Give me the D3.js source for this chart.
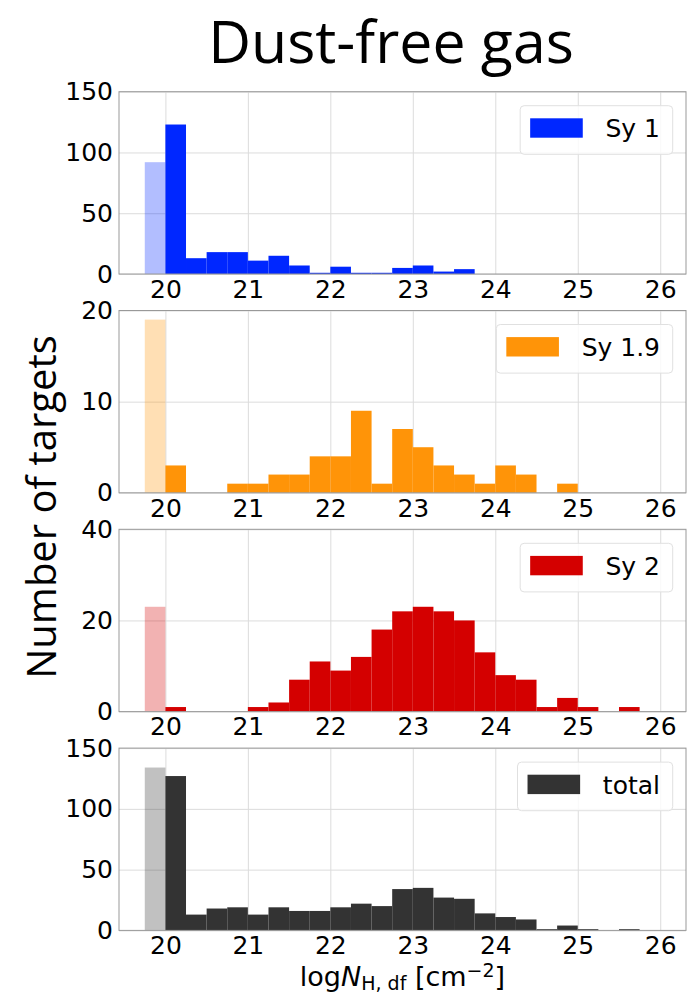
<!DOCTYPE html>
<html>
<head>
<meta charset="utf-8">
<script src="https://cdn.jsdelivr.net/npm/d3@7"></script>
<style>
  body { margin: 0; background: #fff; }
  svg text { font-family: "DejaVu Sans", sans-serif; }
</style>
</head>
<body>
<svg id="chart" width="697" height="997"></svg>
<script>
// bin left edges (width 0.25) for the detected sources
const binStarts = d3.range(24).map(i => 20 + i * 0.25);
const binWidth = 0.25;
const paleStart = 19.75; // lower-limit bin drawn in a light tint

const seriesNames = ["Sy 1", "Sy 1.9", "Sy 2", "total"];
const seriesColors = ["#0027ff", "#ff9408", "#d40000", "#333333"];
const paleCounts = [92, 19, 23, 134];

const sy1Counts  = [123, 13, 18, 18, 11, 15, 7, 1, 6, 1, 1, 5, 7, 2, 4, 0, 0, 0, 0, 0, 0, 0, 0, 0];
const sy19Counts = [3, 0, 0, 1, 1, 2, 2, 4, 4, 9, 1, 7, 5, 3, 2, 1, 3, 2, 0, 1, 0, 0, 0, 0];
const sy2Counts  = [1, 0, 0, 0, 1, 2, 7, 11, 9, 12, 18, 22, 23, 22, 20, 13, 8, 7, 1, 3, 1, 0, 1, 0];
const totCounts  = [127, 13, 18, 19, 13, 19, 16, 16, 19, 22, 20, 34, 35, 27, 26, 14, 11, 9, 1, 4, 1, 0, 1, 0];
const allCounts = [sy1Counts, sy19Counts, sy2Counts, totCounts];

const yMax = [150, 20, 40, 150];
const yTicks = [[0, 50, 100, 150], [0, 10, 20], [0, 20, 40], [0, 50, 100, 150]];
const xTicks = [20, 21, 22, 23, 24, 25, 26];

const svg = d3.select("#chart");

// layout
const left = 119, right = 686;
const panelH = 182.3, firstTop = 91.7, pitch = 218.8;

const x = d3.scaleLinear().domain([19.4375, 26.3125]).range([left, right]);

seriesNames.forEach((name, i) => {
    const top = firstTop + i * pitch;
    const bottom = top + panelH;
    const y = d3.scaleLinear().domain([0, yMax[i]]).range([bottom, top]);
    const g = svg.append("g");

    // grid
    g.append("g")
        .attr("transform", "translate(0," + bottom + ")")
        .call(d3.axisBottom(x).tickValues(xTicks).tickSize(-panelH).tickFormat(""))
        .call(a => a.select(".domain").remove())
        .call(a => a.selectAll("line").attr("stroke", "#dcdcdc"));
    g.append("g")
        .attr("transform", "translate(" + left + ",0)")
        .call(d3.axisLeft(y).tickValues(yTicks[i]).tickSize(-(right - left)).tickFormat(""))
        .call(a => a.select(".domain").remove())
        .call(a => a.selectAll("line").attr("stroke", "#dcdcdc"));

    // pale bar
    g.append("rect")
        .attr("x", x(paleStart))
        .attr("width", x(paleStart + binWidth) - x(paleStart))
        .attr("y", y(paleCounts[i]))
        .attr("height", bottom - y(paleCounts[i]))
        .attr("fill", seriesColors[i])
        .attr("fill-opacity", 0.3);

    // histogram bars
    g.selectAll(".bar")
        .data(binStarts.map((b, k) => ({b: b, v: allCounts[i][k]})).filter(d => d.v > 0))
        .enter().append("rect")
        .attr("class", "bar")
        .attr("x", d => x(d.b))
        .attr("width", d => x(d.b + binWidth) - x(d.b))
        .attr("y", d => y(d.v))
        .attr("height", d => bottom - y(d.v))
        .attr("fill", seriesColors[i]);

    // frame
    g.append("rect")
        .attr("x", left).attr("y", top)
        .attr("width", right - left).attr("height", panelH)
        .attr("fill", "none").attr("stroke", "#999");

    // tick labels
    g.append("g")
        .attr("transform", "translate(0," + bottom + ")")
        .call(d3.axisBottom(x).tickValues(xTicks).tickFormat(d3.format("d")).tickSize(0).tickPadding(6))
        .call(a => a.select(".domain").remove())
        .call(a => a.selectAll("text").attr("font-size", 25).attr("fill", "#000")
            .style("font-family", "'DejaVu Sans'"));
    g.append("g")
        .attr("transform", "translate(" + left + ",0)")
        .call(d3.axisLeft(y).tickValues(yTicks[i]).tickFormat(d3.format("d")).tickSize(0).tickPadding(6))
        .call(a => a.select(".domain").remove())
        .call(a => a.selectAll("text").attr("font-size", 25).attr("fill", "#000")
            .style("font-family", "'DejaVu Sans'"));

    // legend
    const leg = g.append("g");
    const box = leg.append("rect");
    const label = leg.append("text")
        .attr("font-size", 25)
        .text(name);
    const tw = label.node().getComputedTextLength();
    const boxRight = right - 13.3;
    const boxLeft = boxRight - 12.7 - tw - 85.3;
    const boxTop = top + 14;
    box.attr("x", boxLeft).attr("y", boxTop)
        .attr("width", boxRight - boxLeft).attr("height", 48.6)
        .attr("rx", 4)
        .attr("fill", "#fff").attr("fill-opacity", 0.8)
        .attr("stroke", "#e0e0e0");
    leg.append("rect")
        .attr("x", boxLeft + 10).attr("y", boxTop + 12.6)
        .attr("width", 52.6).attr("height", 19.4)
        .attr("fill", seriesColors[i]);
    label.attr("x", boxLeft + 85.3).attr("y", boxTop + 31.6).raise();
});

// title
svg.append("text")
    .attr("x", 391).attr("y", 63)
    .attr("text-anchor", "middle")
    .style("font-family", "'Open Sans'")
    .attr("font-size", 59)
    .text("Dust-free gas");

// y label
svg.append("text")
    .attr("transform", "translate(56,507) rotate(-90)")
    .attr("text-anchor", "middle")
    .style("font-family", "'Open Sans'")
    .attr("font-size", 40)
    .text("Number of targets");

// x label
const xl = svg.append("text")
    .attr("x", (left + right) / 2).attr("y", 986)
    .attr("text-anchor", "middle")
    .attr("font-size", 27);
xl.append("tspan").text("log");
xl.append("tspan").attr("font-style", "italic").text("N");
xl.append("tspan").attr("font-size", 19).attr("dy", 4).text("H, df");
xl.append("tspan").attr("dy", -4).text(" [cm");
xl.append("tspan").attr("font-size", 19).attr("dy", -9).text("\u22122");
xl.append("tspan").attr("dy", 9).text("]");
</script>
</body>
</html>
